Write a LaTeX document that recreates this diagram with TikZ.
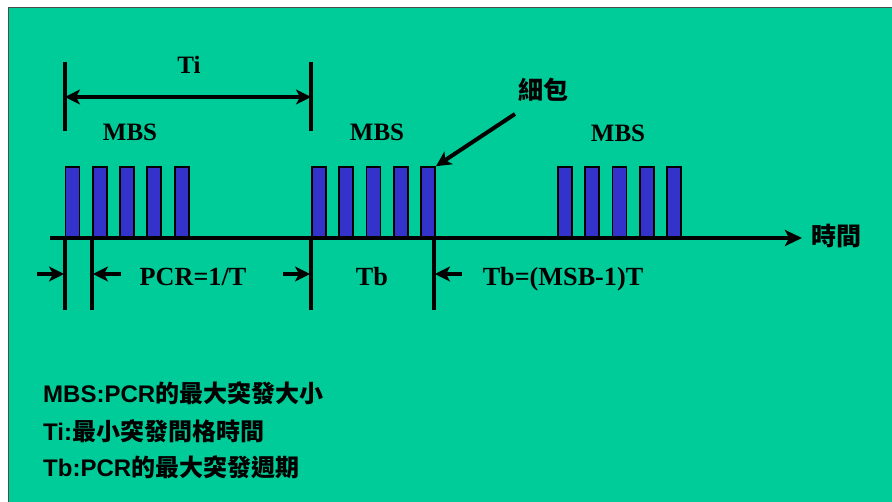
\documentclass[tikz,border=0pt]{standalone}
\usepackage{fontspec}
\setmainfont{Liberation Serif}
\newfontfamily\sansf{Liberation Sans}
\newfontfamily\cjk{Noto Sans CJK TC}
\usetikzlibrary{arrows.meta}
\definecolor{bgc}{RGB}{0,204,153}
\definecolor{barblue}{RGB}{51,51,204}
\begin{document}
\begin{tikzpicture}[x=1pt,y=-1pt,
  bar/.style={draw=black, line width=1.8pt, fill=barblue, minimum width=14pt,
    minimum height=70pt, inner sep=0pt, anchor=south west},
  rule/.style={line width=4pt},
  arr/.style={line width=4pt, -{Stealth[length=15pt,width=15pt,inset=4pt]}},
  darr/.style={line width=4pt, {Stealth[length=15pt,width=15pt,inset=4pt]}-{Stealth[length=15pt,width=15pt,inset=4pt]}},
  lbl/.style={font=\fontsize{25}{28}\selectfont\bfseries, inner sep=0pt, anchor=base},
  lblb/.style={font=\fontsize{26.2}{28}\selectfont\bfseries, inner sep=0pt, anchor=base},
  cjklbl/.style={font=\fontsize{25}{28}\selectfont\cjk\bfseries, inner sep=0pt, anchor=base},
  legend/.style={font=\fontsize{24}{26}\selectfont\bfseries, inner sep=0pt, anchor=base west}]
\useasboundingbox (0,0) rectangle (892,502);
\fill[white] (0,0) rectangle (892,502);
\draw[fill=bgc, draw=black!70, line width=1.5pt] (8.5,7.5) rectangle (895,505);

% bars
\foreach \i/\x in {1/64.5,2/91.8,3/119.1,4/146.4,5/173.7}
  \node[bar] (a\i) at (\x,238) {};
\foreach \i/\x in {1/311,2/338.3,3/365.6,4/392.9,5/420.2}
  \node[bar] (b\i) at (\x,238) {};
\foreach \i/\x in {1/557,2/584.3,3/611.6,4/638.9,5/666.2}
  \node[bar] (c\i) at (\x,238) {};

% axis
\coordinate (axs) at (50,238);
\coordinate (axe) at (802,238);
\draw[line width=4.5pt, -{Stealth[length=17pt,width=16pt,inset=4pt]}] (axs) -- (axe);
\node[cjklbl, anchor=base west] (time) at (811,246) {時間};

% vertical rules
\coordinate (t1a) at (65,62);  \coordinate (t1b) at (65,131);
\coordinate (t2a) at (311,62); \coordinate (t2b) at (311,131);
\draw[rule] (t1a) -- (t1b);
\draw[rule] (t2a) -- (t2b);
\coordinate (ti1) at (65,97); \coordinate (ti2) at (311,97);
\draw[darr] (ti1) -- (ti2);
\node[lbl] (ti) at (189,74) {Ti};

\coordinate (v1a) at (65,238);  \coordinate (v1b) at (65,310);
\coordinate (v2a) at (92,238);  \coordinate (v2b) at (92,310);
\coordinate (v3a) at (311,238); \coordinate (v3b) at (311,310);
\coordinate (v4a) at (434,238); \coordinate (v4b) at (434,310);
\foreach \n in {1,2,3,4} \draw[rule] (v\n a) -- (v\n b);

% small arrows
\coordinate (p1) at (37,274);  \coordinate (q1) at (64,274);
\coordinate (p2) at (121,274); \coordinate (q2) at (93,274);
\coordinate (p3) at (283,274); \coordinate (q3) at (310,274);
\coordinate (p4) at (462,274); \coordinate (q4) at (435,274);
\foreach \n in {1,2,3,4} \draw[arr] (p\n) -- (q\n);

\node[lblb] (pcr) at (193,286) {PCR=1/T};
\node[lblb] (tb) at (372,286) {Tb};
\node[lblb] (tbf) at (563,286) {Tb=(MSB-1)T};

\node[lbl] (m1) at (130,140.5) {MBS};
\node[lbl] (m2) at (377,140.5) {MBS};
\node[lbl] (m3) at (618,142) {MBS};

% callout
\node[cjklbl] (cell) at (543,100) {細包};
\coordinate (cs) at (515,114);
\draw[arr] (cs) -- (b5.north east);

% legend
\node[legend] (l1) at (43,403) {\sansf MBS:PCR{\cjk 的最大突發大小}};
\node[legend] (l2) at (43,441) {\sansf Ti:{\cjk 最小突發間格時間}};
\node[legend] (l3) at (43,477) {\sansf Tb:PCR{\cjk 的最大突發週期}};
\end{tikzpicture}
\end{document}
